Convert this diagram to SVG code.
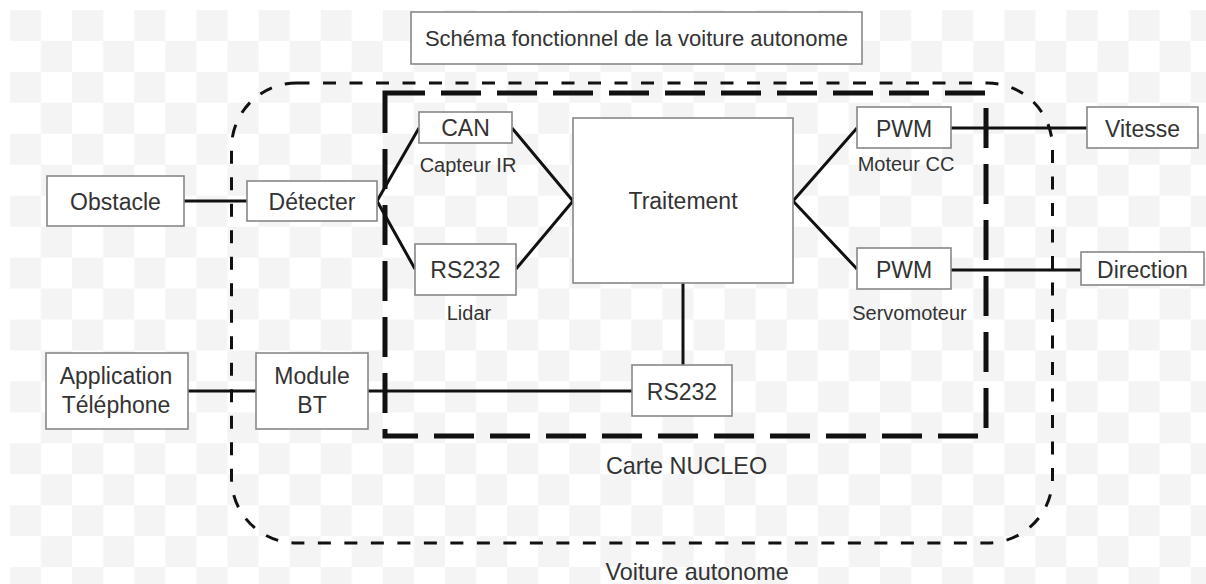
<svg xmlns="http://www.w3.org/2000/svg" width="1206" height="584" viewBox="0 0 1206 584">
  <defs>
    <pattern id="checker" x="10" y="10" width="62.14" height="61.9" patternUnits="userSpaceOnUse">
      <rect x="0" y="0" width="31.07" height="30.95" fill="#f4f4f4"/>
      <rect x="31.07" y="30.95" width="31.07" height="30.95" fill="#f4f4f4"/>
    </pattern>
    <style>
      .box { fill: #ffffff; stroke: #888888; stroke-width: 1.6; }
      .lbl { font-family: "Liberation Sans", Arial, sans-serif; font-size: 23px; fill: #333333; text-anchor: middle; }
      .sm { font-size: 20px; }
      .ttl { font-size: 22px; }
      .big { font-size: 23.4px; }
      .conn { fill: none; stroke: #111111; stroke-width: 3; stroke-linejoin: miter; }
      .outer { fill: none; stroke: #111111; stroke-width: 3; stroke-dasharray: 13 13.5; }
      .nucleo { fill: none; stroke: #111111; stroke-width: 5; stroke-dasharray: 40 16; }
    </style>
  </defs>

  <rect x="0" y="0" width="1206" height="584" fill="#ffffff"/>
  <rect x="10" y="10" width="1196" height="574" fill="url(#checker)"/>

  <g id="voiture-autonome">
    <rect class="outer" x="231.5" y="83" width="821" height="460" rx="65" ry="65"/>
    <text class="lbl big" x="605.5" y="580" style="text-anchor: start">Voiture autonome</text>
  </g>

  <g id="carte-nucleo">
    <rect class="nucleo" x="385" y="93" width="601" height="343"/>
    <text class="lbl big" x="686.5" y="473.5">Carte NUCLEO</text>
  </g>

  <g id="connectors">
    <path class="conn" d="M184 201 H247"/>
    <path class="conn" d="M419 128 L377 201 L415 269"/>
    <path class="conn" d="M512 128 L573 201 L516 269"/>
    <path class="conn" d="M857 128 L793 201 L857 269"/>
    <path class="conn" d="M951 128 H1087"/>
    <path class="conn" d="M951 270 H1081"/>
    <path class="conn" d="M188 391 H256"/>
    <path class="conn" d="M368 391 H632"/>
    <path class="conn" d="M683 283 V365"/>
  </g>

  <g id="titre">
    <rect class="box" x="411" y="12" width="451" height="52"/>
    <text class="lbl ttl" x="636.5" y="45.5">Schéma fonctionnel de la voiture autonome</text>
  </g>

  <g id="obstacle">
    <rect class="box" x="47" y="176" width="137" height="50"/>
    <text class="lbl" x="115.5" y="209.5">Obstacle</text>
  </g>

  <g id="detecter">
    <rect class="box" x="247" y="181" width="130" height="40"/>
    <text class="lbl" x="312" y="209.5">Détecter</text>
  </g>

  <g id="can">
    <rect class="box" x="419" y="112" width="93" height="31"/>
    <text class="lbl" x="465.5" y="136">CAN</text>
    <text class="lbl sm" x="468" y="171.5">Capteur IR</text>
  </g>

  <g id="rs232-lidar">
    <rect class="box" x="415" y="244" width="101" height="51"/>
    <text class="lbl" x="465.5" y="277.5">RS232</text>
    <text class="lbl sm" x="469" y="320">Lidar</text>
  </g>

  <g id="traitement">
    <rect class="box" x="573" y="118" width="220" height="165"/>
    <text class="lbl" x="683" y="209">Traitement</text>
  </g>

  <g id="pwm-moteur">
    <rect class="box" x="857" y="107" width="94" height="41"/>
    <text class="lbl" x="904" y="136.5">PWM</text>
    <text class="lbl sm" x="906" y="170.5">Moteur CC</text>
  </g>

  <g id="pwm-servo">
    <rect class="box" x="857" y="248" width="94" height="41"/>
    <text class="lbl" x="904" y="277.5">PWM</text>
    <text class="lbl sm" x="909.5" y="320">Servomoteur</text>
  </g>

  <g id="vitesse">
    <rect class="box" x="1087" y="107" width="111" height="41"/>
    <text class="lbl" x="1142.5" y="136.5">Vitesse</text>
  </g>

  <g id="direction">
    <rect class="box" x="1081" y="252" width="123" height="33"/>
    <text class="lbl" x="1142.5" y="278">Direction</text>
  </g>

  <g id="application">
    <rect class="box" x="46" y="353" width="142" height="76"/>
    <text class="lbl" x="116" y="384">Application</text>
    <text class="lbl" x="116" y="413">Téléphone</text>
  </g>

  <g id="module-bt">
    <rect class="box" x="256" y="353" width="112" height="76"/>
    <text class="lbl" x="312" y="384">Module</text>
    <text class="lbl" x="312" y="413">BT</text>
  </g>

  <g id="rs232-bt">
    <rect class="box" x="632" y="365" width="100" height="51"/>
    <text class="lbl" x="682" y="399.5">RS232</text>
  </g>
</svg>
